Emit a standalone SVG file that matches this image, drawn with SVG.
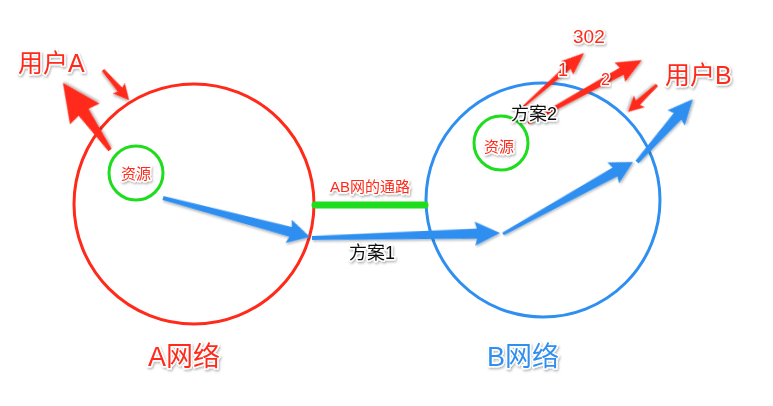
<svg xmlns="http://www.w3.org/2000/svg" width="773" height="406" viewBox="0 0 773 406">
  <style>
    .lbl { font-family: "Liberation Sans", "Noto Sans CJK SC", sans-serif; stroke: #ffffff; stroke-width: 3; stroke-linejoin: round; paint-order: stroke; filter: url(#soft); }
    .red { fill: #ff2a1a; }
    .blue { fill: #2f8ff0; }
    .black { fill: #111111; }
    .ring { fill: none; stroke-width: 3; }
    .arrow-red { fill: #ff2a1a; filter: url(#soft); }
    .arrow-blue { fill: #2f8ff0; filter: url(#soft); }
  </style>
  <defs>
    <filter id="soft" x="-20%" y="-20%" width="140%" height="140%">
      <feDropShadow dx="1" dy="1.5" stdDeviation="1" flood-color="#000000" flood-opacity="0.3"/>
    </filter>
  </defs>
  <rect width="773" height="406" fill="#ffffff"/>

  <!-- network A -->
  <g id="netA">
    <circle class="ring" cx="194" cy="204" r="120" stroke="#ff2a1a"/>
    <text class="lbl red" x="148" y="366" font-size="27">A网络</text>
  </g>
  <g id="resA">
    <circle class="ring" cx="136" cy="173" r="27" stroke="#1edd1e"/>
    <text class="lbl red" x="121" y="179" font-size="15">资源</text>
  </g>
  <g id="userA">
    <text class="lbl red" x="18" y="72" font-size="25">用户A</text>
  </g>

  <!-- network B -->
  <g id="netB">
    <circle class="ring" cx="543" cy="200" r="117" stroke="#2f8ff0"/>
    <text class="lbl blue" x="487" y="366" font-size="27">B网络</text>
  </g>
  <g id="resB">
    <circle class="ring" cx="501" cy="143" r="27" stroke="#1edd1e"/>
    <text class="lbl red" x="484" y="152" font-size="15">资源</text>
  </g>
  <g id="userB">
    <text class="lbl red" x="665" y="84" font-size="25">用户B</text>
  </g>

  <!-- link between the two networks -->
  <g id="link">
    <line x1="315" y1="205" x2="425" y2="205" stroke="#1edd1e" stroke-width="7" stroke-linecap="round"/>
    <text class="lbl red" x="330" y="192" font-size="15">AB网的通路</text>
  </g>

  <!-- connectors -->
  <g id="connectors">
    <!-- resource A out to user A -->
    <polygon class="arrow-red" transform="translate(110,150) rotate(-125.05)" points="0,-2 46,-6 44,-18 82,0 44,18 46,6 0,2"/>
    <polygon class="arrow-red" transform="translate(103,70) rotate(49.1)" points="0,-1.5 26,-3 24,-8 40,0 24,8 26,3 0,1.5"/>
    <!-- plan 1 route -->
    <polygon class="arrow-blue" transform="translate(163,198) rotate(14.86)" points="0,-2 132,-5 130,-12 152,0 130,12 132,5 0,2"/>
    <polygon class="arrow-blue" transform="translate(312,238) rotate(-1.52)" points="0,-2 165,-5 163,-12 188,0 163,12 165,5 0,2"/>
    <polygon class="arrow-blue" transform="translate(503,234) rotate(-28.98)" points="0,-1.5 128,-5 126,-12 148.6,0 126,12 128,5 0,1.5"/>
    <polygon class="arrow-blue" transform="translate(637,162) rotate(-48.4)" points="0,-2 61,-5 59,-11.5 84,0 59,11.5 61,5 0,2"/>
    <!-- plan 2 redirect -->
    <polygon class="arrow-red" transform="translate(523,107) rotate(-41.5)" points="0,-1 61,-3 59,-9 81.5,0 59,9 61,3 0,1"/>
    <polygon class="arrow-red" transform="translate(528,123) rotate(-28.93)" points="0,-1.5 107,-4 105,-11 130,0 105,11 107,4 0,1.5"/>
    <polygon class="arrow-red" transform="translate(657,85) rotate(137.05)" points="0,-1.5 26,-3 24,-8 39.6,0 24,8 26,3 0,1.5"/>
  </g>

  <!-- route labels -->
  <g id="plan1">
    <text class="lbl black" x="349" y="259" font-size="18">方案1</text>
  </g>
  <g id="plan2">
    <text class="lbl black" x="511" y="120" font-size="18">方案2</text>
  </g>
  <g id="step1">
    <text class="lbl red" x="558" y="76" font-size="18">1</text>
  </g>
  <g id="step2">
    <text class="lbl red" x="601" y="85" font-size="16">2</text>
  </g>
  <g id="code302">
    <text class="lbl red" x="573" y="43" font-size="19">302</text>
  </g>
</svg>
